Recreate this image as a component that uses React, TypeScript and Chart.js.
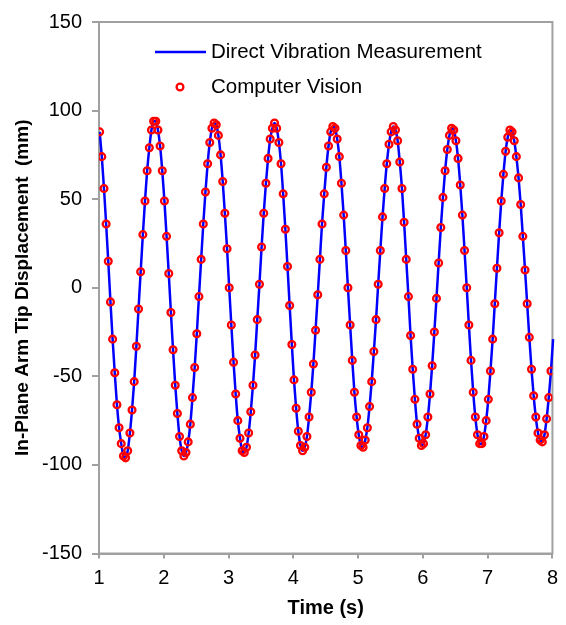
import React, { useEffect, useRef } from "react";
import { Chart, registerables } from "chart.js";

Chart.register(...registerables);

// Sample times (s) of the computer-vision measurements
const cvTime = [
  1.010, 1.043, 1.077, 1.110, 1.143, 1.177, 1.210, 1.243, 1.277, 1.310, 1.343, 1.377, 1.410, 1.443, 1.477,
  1.510, 1.543, 1.577, 1.610, 1.643, 1.677, 1.710, 1.743, 1.777, 1.810, 1.843, 1.877, 1.910, 1.943, 1.977,
  2.010, 2.043, 2.077, 2.110, 2.143, 2.177, 2.210, 2.243, 2.277, 2.310, 2.343, 2.377, 2.410, 2.443, 2.477,
  2.510, 2.543, 2.577, 2.610, 2.643, 2.677, 2.710, 2.743, 2.777, 2.810, 2.843, 2.877, 2.910, 2.943, 2.977,
  3.010, 3.043, 3.077, 3.110, 3.143, 3.177, 3.210, 3.243, 3.277, 3.310, 3.343, 3.377, 3.410, 3.443, 3.477,
  3.510, 3.543, 3.577, 3.610, 3.643, 3.677, 3.710, 3.743, 3.777, 3.810, 3.843, 3.877, 3.910, 3.943, 3.977,
  4.010, 4.043, 4.077, 4.110, 4.143, 4.177, 4.210, 4.243, 4.277, 4.310, 4.343, 4.377, 4.410, 4.443, 4.477,
  4.510, 4.543, 4.577, 4.610, 4.643, 4.677, 4.710, 4.743, 4.777, 4.810, 4.843, 4.877, 4.910, 4.943, 4.977,
  5.010, 5.043, 5.077, 5.110, 5.143, 5.177, 5.210, 5.243, 5.277, 5.310, 5.343, 5.377, 5.410, 5.443, 5.477,
  5.510, 5.543, 5.577, 5.610, 5.643, 5.677, 5.710, 5.743, 5.777, 5.810, 5.843, 5.877, 5.910, 5.943, 5.977,
  6.010, 6.043, 6.077, 6.110, 6.143, 6.177, 6.210, 6.243, 6.277, 6.310, 6.343, 6.377, 6.410, 6.443, 6.477,
  6.510, 6.543, 6.577, 6.610, 6.643, 6.677, 6.710, 6.743, 6.777, 6.810, 6.843, 6.877, 6.910, 6.943, 6.977,
  7.010, 7.043, 7.077, 7.110, 7.143, 7.177, 7.210, 7.243, 7.277, 7.310, 7.343, 7.377, 7.410, 7.443, 7.477,
  7.510, 7.543, 7.577, 7.610, 7.643, 7.677, 7.710, 7.743, 7.777, 7.810, 7.843, 7.877, 7.910, 7.943, 7.977,
];

// Displacement (mm) at those times
const cvDisp = [
  88, 74, 56, 36, 15, -8, -29, -48, -66, -79, -88, -95,
  -96, -92, -82, -69, -53, -33, -12, 9, 30, 49, 66, 79, 89, 94,
  94, 89, 80, 66, 49, 29, 8, -14, -35, -55, -71, -84, -92, -95,
  -93, -87, -77, -62, -45, -26, -5, 16, 36, 54, 70, 82, 90, 93,
  92, 86, 75, 60, 42, 22, 0, -21, -42, -60, -75, -85, -92,
  -93, -90, -82, -70, -55, -38, -18, 2, 23, 42, 59, 73, 84, 90,
  93, 90, 82, 70, 53, 33, 12, -10, -32, -52, -68, -81, -89, -92,
  -90, -84, -73, -59, -43, -24, -4, 16, 36, 53, 68, 80, 88, 91,
  90, 84, 74, 59, 41, 21, 0, -21, -41, -59, -73, -83, -89,
  -90, -86, -79, -67, -53, -36, -18, 2, 21, 40, 56, 70, 81, 88, 91,
  89, 83, 71, 56, 37, 16, -5, -27, -46, -63, -77, -85, -89,
  -88, -83, -73, -60, -44, -25, -6, 14, 34, 51, 66, 78, 86, 90,
  89, 83, 73, 58, 41, 21, 0, -21, -41, -59, -73, -83, -88,
  -88, -84, -75, -63, -47, -29, -9, 11, 31, 49, 64, 77, 85, 89,
  88, 83, 74, 62, 47, 29, 10, -9, -28, -46, -61, -73, -82, -86,
  -87, -83, -74, -62, -47,
];

// The direct measurement runs a little past the last camera sample
const directTailTime = [8.01, 8.04];
const directTailDisp = [-29, -12];

const directTime = [...cvTime, ...directTailTime];
const directDisp = [...cvDisp, ...directTailDisp];

const xTicks = [1, 2, 3, 4, 5, 6, 7, 8];
const yTicks = [-150, -100, -50, 0, 50, 100, 150];

const LABEL_DIRECT = "Direct Vibration Measurement";
const LABEL_CV = "Computer Vision";
const X_TITLE = "Time (s)";
const Y_TITLE = "In-Plane Arm Tip Displacement  (mm)";

const FONT = "'Liberation Sans', Arial, Helvetica, sans-serif";
const GRAY = "#a0a0a0";

const frameLegendPlugin = {
  id: "frameLegend",
  beforeDatasetsDraw(chart: any) {
    const { ctx, chartArea: a } = chart;
    ctx.save();
    ctx.strokeStyle = GRAY;
    ctx.lineWidth = 2;
    ctx.strokeRect(a.left, a.top, a.right - a.left, a.bottom - a.top);
    ctx.restore();
  },
  afterDraw(chart: any) {
    const { ctx } = chart;
    const ds = chart.data.datasets;
    ctx.save();
    ctx.font = `20.5px ${FONT}`;
    ctx.fillStyle = "#000";
    ctx.textBaseline = "middle";
    ctx.textAlign = "left";
    // line entry
    ctx.strokeStyle = "#0000ff";
    ctx.lineWidth = 2.5;
    ctx.beginPath();
    ctx.moveTo(155, 52);
    ctx.lineTo(206, 52);
    ctx.stroke();
    ctx.fillText(ds[0].label, 211, 52);
    // marker entry
    ctx.strokeStyle = "#ff0000";
    ctx.lineWidth = 2.3;
    ctx.beginPath();
    ctx.arc(180, 87, 3.4, 0, Math.PI * 2);
    ctx.stroke();
    ctx.fillText(ds[1].label, 211, 87);
    ctx.restore();
  },
};

export default function App() {
  const ref = useRef<HTMLCanvasElement | null>(null);

  useEffect(() => {
    document.body.style.margin = "0";
    const canvas = ref.current;
    if (!canvas) return;
    const chart = new Chart(canvas, {
      type: "line",
      data: {
        datasets: [
          {
            label: LABEL_DIRECT,
            data: directTime.map((t, i) => ({ x: t, y: directDisp[i] })),
            borderColor: "#0000ff",
            backgroundColor: "#0000ff",
            borderWidth: 2.5,
            pointRadius: 0,
            cubicInterpolationMode: "monotone",
            order: 2,
            clip: { left: 0, top: 0, right: 3, bottom: 0 },
          },
          {
            label: LABEL_CV,
            data: cvTime.map((t, i) => ({ x: t, y: cvDisp[i] })),
            showLine: false,
            borderColor: "#ff0000",
            backgroundColor: "rgba(0,0,0,0)",
            pointRadius: 3.4,
            pointBorderWidth: 2.3,
            pointBorderColor: "#ff0000",
            pointBackgroundColor: "rgba(0,0,0,0)",
            order: 1,
          },
        ],
      },
      options: {
        animation: false,
        responsive: false,
        maintainAspectRatio: false,
        layout: { padding: { top: 19, right: 11, bottom: 0, left: 0 } },
        plugins: {
          legend: { display: false },
          tooltip: { enabled: false },
        },
        scales: {
          x: {
            type: "linear",
            min: 1,
            max: 8,
            afterBuildTicks: (scale: any) => {
              scale.ticks = xTicks.map((v) => ({ value: v }));
            },
            afterFit: (scale: any) => {
              scale.height = 71.5;
            },
            ticks: {
              color: "#000",
              font: { family: FONT, size: 20 },
              padding: 8,
              maxRotation: 0,
            },
            grid: {
              drawOnChartArea: false,
              drawTicks: true,
              tickLength: 5,
              color: GRAY,
              lineWidth: 2,
            },
            border: { display: true, color: GRAY, width: 2 },
            title: {
              display: true,
              text: X_TITLE,
              color: "#000",
              font: { family: FONT, size: 20, weight: "bold" },
              padding: { top: 0, bottom: 5 },
            },
          },
          y: {
            type: "linear",
            min: -150,
            max: 150,
            afterBuildTicks: (scale: any) => {
              scale.ticks = yTicks.map((v) => ({ value: v }));
            },
            afterFit: (scale: any) => {
              scale.width = 99;
            },
            ticks: {
              color: "#000",
              font: { family: FONT, size: 20 },
              padding: 10,
            },
            grid: {
              drawOnChartArea: false,
              drawTicks: true,
              tickLength: 7,
              color: GRAY,
              lineWidth: 2,
            },
            border: { display: true, color: GRAY, width: 2 },
            title: {
              display: true,
              text: Y_TITLE,
              color: "#000",
              font: { family: FONT, size: 19, weight: "bold" },
              padding: { top: 11, bottom: 0 },
            },
          },
        },
      },
      plugins: [frameLegendPlugin],
    });
    return () => chart.destroy();
  }, []);

  return (
    <canvas
      ref={ref}
      width={566}
      height={625}
      style={{ display: "block", width: 566, height: 625 }}
    />
  );
}
